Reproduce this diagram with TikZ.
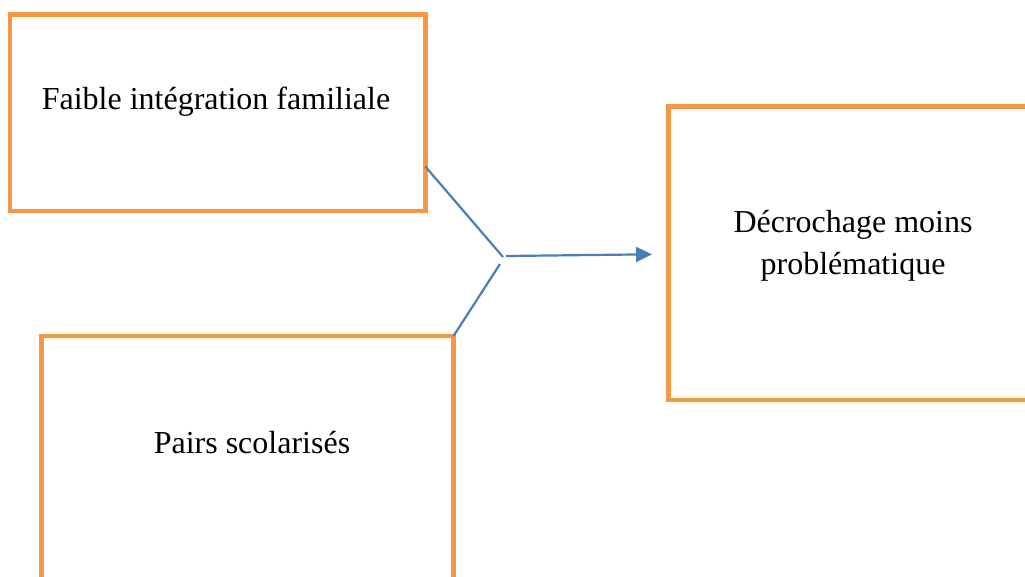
\documentclass[tikz,border=0pt]{standalone}
\usepackage{fontspec}
\setmainfont{Liberation Serif}
\usetikzlibrary{arrows.meta}
\definecolor{boxorange}{HTML}{F79646}
\definecolor{linkblue}{HTML}{4A7EBB}
\begin{document}
\begin{tikzpicture}[x=1pt,y=-1pt,
  frame/.style={draw=boxorange,line width=4.5pt,rectangle,inner sep=0pt,outer sep=0pt,anchor=north west},
  boxtext/.style={font=\fontsize{32}{41}\selectfont,anchor=base,inner sep=0pt},
  link/.style={draw=linkblue,line width=2.2pt}]
\useasboundingbox (0,0) rectangle (1025,576);
\clip (0,0) rectangle (1025,576);

% the three boxes
\node[frame,minimum width=415.5pt,minimum height=196.5pt] (b1) at (10,14.5) {};
\node[frame,minimum width=411.8pt,minimum height=280pt] (b2) at (41.7,336) {};
\node[frame,minimum width=370pt,minimum height=293.5pt] (b3) at (668.5,106.5) {};

% box captions
\node[boxtext] (t1) at (216,109.3) {Faible intégration familiale};
\node[boxtext] (t2) at (252,453.3) {Pairs scolarisés};
\node[boxtext] (t3a) at (853,232) {Décrochage moins};
\node[boxtext] (t3b) at (853,274) {problématique};

% joining lines and the arrow towards the outcome
\coordinate (j1) at (503,257);
\coordinate (j2) at (500,264);
\coordinate (j3) at (506,256);
\coordinate (tip) at (652,254.3);
\draw[link] (b1.east |- 0,166.7) -- (j1);
\draw[link] (j2) -- (b2.north east);
\draw[link,-{Triangle[length=16pt,width=15pt]}] (j3) -- (tip);
\end{tikzpicture}
\end{document}
